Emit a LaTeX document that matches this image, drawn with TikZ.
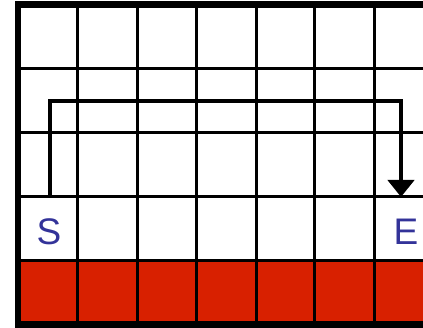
\documentclass[tikz,border=0pt]{standalone}
\usepackage{fontspec}
\setmainfont{Liberation Sans}
\usetikzlibrary{arrows.meta}
\definecolor{cellred}{RGB}{216,32,0}
\definecolor{lblue}{RGB}{51,51,153}
\begin{document}
\begin{tikzpicture}[x=1pt,y=-1pt,
  gridline/.style={line width=3pt,black},
  borderline/.style={line width=6.5pt,black},
  pathline/.style={line width=4.5pt,black,line join=miter},
  lbl/.style={text=lblue,font=\fontsize{37}{40}\selectfont,inner sep=0pt,anchor=center}]
\useasboundingbox (0,0) rectangle (423,328);
\clip (0,0) rectangle (423,328);
% red bottom row
\fill[cellred] (18,261) rectangle (430,324);
% grid
\foreach \x in {77,137,196,256,314,374}
  \draw[gridline] (\x,4) -- (\x,324);
\foreach \y in {69,133,197,261}
  \draw[gridline] (18,\y) -- (430,\y);
% border
\draw[borderline] (430,4.5) -- (18,4.5) -- (18,324.5) -- (430,324.5);
% labels
\node[lbl] (S) at (49,232) {S};
\node[lbl] (E) at (406,232) {E};
% path
\coordinate (start) at (50,197);
\coordinate (finish) at (401,197);
\draw[pathline,-{Triangle[width=26pt,length=17pt]}] (start) -- (50,101) -- (401,101) -- (finish);
\end{tikzpicture}
\end{document}
